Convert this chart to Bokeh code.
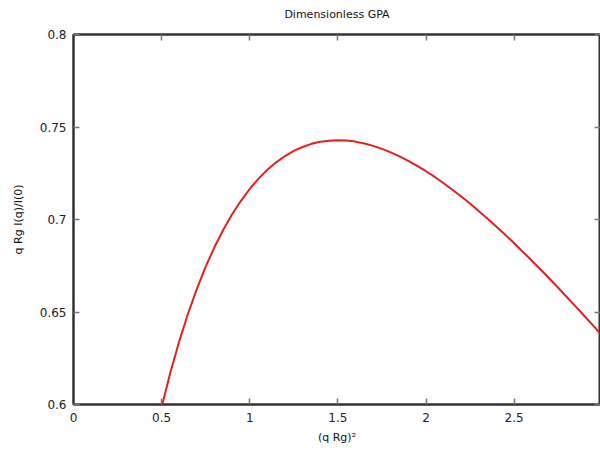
from bokeh.plotting import figure
from bokeh.models import LinearAxis, FixedTicker, Range1d
from bokeh.embed import file_html
from bokeh.resources import INLINE

# Dimensionless Guinier peak analysis curve: (q Rg)^2 against q Rg I(q)/I(0)
qrg2 = [0.50, 0.55, 0.60, 0.65, 0.70, 0.75, 0.80, 0.85, 0.90, 0.95,
        1.00, 1.05, 1.10, 1.15, 1.20, 1.25, 1.30, 1.35, 1.40, 1.45,
        1.50, 1.55, 1.60, 1.65, 1.70, 1.75, 1.80, 1.85, 1.90, 1.95,
        2.00, 2.05, 2.10, 2.15, 2.20, 2.25, 2.30, 2.35, 2.40, 2.45,
        2.50, 2.55, 2.60, 2.65, 2.70, 2.75, 2.80, 2.85, 2.90, 2.95, 3.00]
gpa = [0.5986, 0.6174, 0.6342, 0.6492, 0.6625, 0.6745, 0.6851, 0.6945, 0.7028, 0.7101,
       0.7165, 0.7221, 0.7269, 0.7309, 0.7343, 0.7371, 0.7392, 0.7409, 0.7420, 0.7426,
       0.7428, 0.7427, 0.7421, 0.7411, 0.7398, 0.7382, 0.7363, 0.7341, 0.7317, 0.7290,
       0.7261, 0.7230, 0.7196, 0.7161, 0.7124, 0.7086, 0.7045, 0.7004, 0.6961, 0.6917,
       0.6872, 0.6825, 0.6778, 0.6730, 0.6681, 0.6631, 0.6580, 0.6529, 0.6477, 0.6425, 0.6372]

x_ticks = [0, 0.5, 1, 1.5, 2, 2.5]
x_tick_labels = ["0", "0.5", "1", "1.5", "2", "2.5"]
y_ticks = [0.6, 0.65, 0.7, 0.75, 0.8]
y_tick_labels = ["0.6", "0.65", "0.7", "0.75", "0.8"]

FONT = "DejaVu Sans"

p = figure(width=600, height=450, output_backend="svg", toolbar_location=None,
           x_range=Range1d(0, 2.99), y_range=Range1d(0.6, 0.8),
           min_border_left=73, min_border_right=0, min_border_top=34, min_border_bottom=46)

p.xgrid.visible = False
p.ygrid.visible = False
p.outline_line_color = "#333333"
p.outline_line_width = 2
p.background_fill_color = "white"
p.border_fill_color = "white"


def style_axis(ax, ticks, labels):
    ax.ticker = FixedTicker(ticks=ticks)
    ax.major_label_overrides = {t: l for t, l in zip(ticks, labels)}
    ax.minor_tick_line_color = None
    ax.major_tick_in = 6
    ax.major_tick_out = 0
    ax.major_tick_line_color = "#777777"
    ax.major_tick_line_width = 1.5
    ax.axis_line_color = "#333333"
    ax.axis_line_width = 2
    ax.major_label_text_font = FONT
    ax.major_label_text_font_size = "12px"
    ax.major_label_text_color = "#222222"
    ax.axis_label_text_font = FONT
    ax.axis_label_text_font_size = "11px"
    ax.axis_label_text_font_style = "normal"
    ax.axis_label_text_color = "#111111"


style_axis(p.xaxis[0], x_ticks, x_tick_labels)
style_axis(p.yaxis[0], y_ticks, y_tick_labels)
p.xaxis[0].axis_label = "(q Rg)²"
p.yaxis[0].axis_label = "q Rg I(q)/I(0)"
p.xaxis[0].major_label_standoff = 8
p.yaxis[0].major_label_standoff = 7
p.xaxis[0].axis_label_standoff = 6
p.yaxis[0].axis_label_standoff = 12

# mirrored tick marks on the top and right edges, without tick labels;
# the top edge carries the chart heading, centred over the plot area
top = LinearAxis()
right = LinearAxis()
style_axis(top, x_ticks, [""] * len(x_ticks))
style_axis(right, y_ticks, [""] * len(y_ticks))
for ax in (top, right):
    ax.major_label_standoff = 0
top.axis_label = "Dimensionless GPA"
top.axis_label_standoff = 14
p.add_layout(top, "above")
p.add_layout(right, "right")

p.line(qrg2, gpa, line_color="#e3201b", line_width=2)

open("out.html", "w").write(file_html(p, INLINE))
